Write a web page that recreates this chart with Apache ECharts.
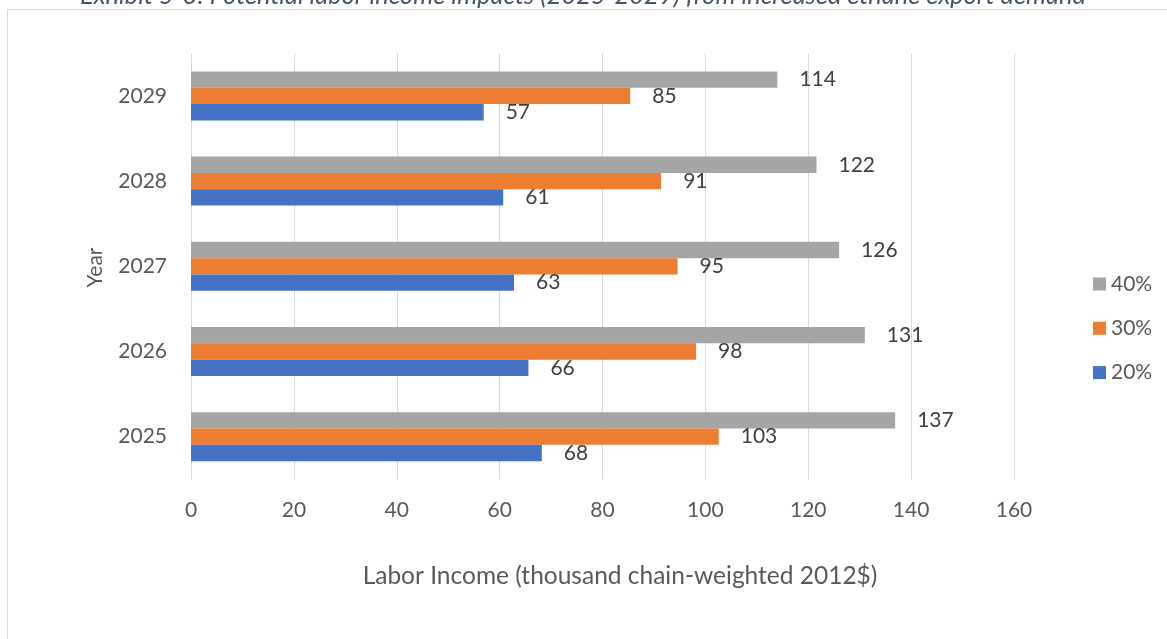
<!DOCTYPE html>
<html>
<head>
<meta charset="utf-8">
<script src="https://cdn.jsdelivr.net/npm/echarts@6/dist/echarts.min.js"></script>
<style>
html,body{margin:0;padding:0;background:#fff;}
#chart{width:1167px;height:639px;}
</style>
</head>
<body>
<div id="chart"></div>
<script>
const years = ['2025', '2026', '2027', '2028', '2029'];
const seriesNames = ['40%', '30%', '20%'];
const values40 = [136.9, 131.0, 126.0, 121.6, 114.0];
const values30 = [102.6, 98.2, 94.6, 91.4, 85.4];
const values20 = [68.2, 65.6, 62.8, 60.7, 56.9];
const xTicks = [0, 20, 40, 60, 80, 100, 120, 140, 160];
const colors = ['#A5A5A5', '#ED7D31', '#4472C4'];
const titleText = 'Exhibit 5-3: Potential labor income impacts (2025-2029) from increased ethane export demand';
const xName = 'Labor Income (thousand chain-weighted 2012$)';
const yName = 'Year';

const FONT = 'Lato';
const chart = echarts.init(document.getElementById('chart'), null, {renderer: 'canvas'});

function mkSeries(name, data, color) {
  return {
    name: name,
    type: 'bar',
    data: data,
    barGap: '0%',
    barCategoryGap: '42.5%',
    itemStyle: {color: color},
    label: {
      show: true,
      position: 'right',
      distance: 22,
      fontFamily: FONT,
      fontSize: 21,
      color: '#404040',
      formatter: p => Math.round(p.value)
    }
  };
}

chart.setOption({
  animation: false,
  backgroundColor: '#fff',
  grid: {left: 191, right: 153, top: 53.3, bottom: 159.7, containLabel: false},
  xAxis: {
    type: 'value',
    min: xTicks[0],
    max: xTicks[xTicks.length - 1],
    interval: 20,
    axisLine: {show: false},
    axisTick: {show: false},
    splitLine: {show: true, lineStyle: {color: '#D9D9D9', width: 1}},
    axisLabel: {fontFamily: FONT, fontSize: 21, color: '#595959', margin: 20}
  },
  yAxis: {
    type: 'category',
    data: years,
    axisLine: {show: false},
    axisTick: {show: false},
    splitLine: {show: false},
    axisLabel: {fontFamily: FONT, fontSize: 21, color: '#595959', margin: 24}
  },
  legend: {
    orient: 'vertical',
    left: 1088,
    top: 268.5,
    data: seriesNames,
    itemWidth: 13,
    itemHeight: 13,
    itemGap: 23.3,
    icon: 'rect',
    textStyle: {fontFamily: FONT, fontSize: 21, color: '#595959'}
  },
  graphic: [
    {
      type: 'rect',
      shape: {x: 7.5, y: 9.5, width: 1300, height: 800},
      style: {fill: 'none', stroke: '#D9D9D9', lineWidth: 1},
      silent: true, z: -1
    },
    {
      type: 'text',
      style: {
        text: titleText, x: 583, y: 8.5, align: 'center', verticalAlign: 'bottom',
        fontFamily: FONT, fontSize: 25.4, fontStyle: 'italic', fill: '#44546A'
      }
    },
    {
      type: 'text',
      style: {
        text: xName, x: 620, y: 576, align: 'center', verticalAlign: 'middle',
        fontFamily: FONT, fontSize: 24.5, fill: '#595959'
      }
    },
    {
      type: 'text',
      rotation: Math.PI / 2,
      x: 95, y: 267.5,
      style: {
        text: yName, x: 0, y: 0, align: 'center', verticalAlign: 'middle',
        fontFamily: FONT, fontSize: 21, fill: '#595959'
      }
    }
  ],
  series: [
    mkSeries(seriesNames[0], values40, colors[0]),
    mkSeries(seriesNames[1], values30, colors[1]),
    mkSeries(seriesNames[2], values20, colors[2])
  ]
});
</script>
</body>
</html>
